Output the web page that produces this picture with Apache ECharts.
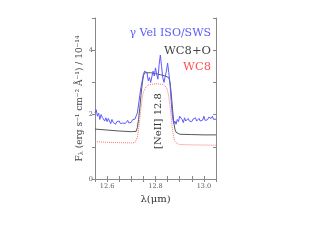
<!DOCTYPE html>
<html><head><meta charset="utf-8">
<script src="https://cdn.jsdelivr.net/npm/echarts@6/dist/echarts.min.js"></script>
<style>html,body{margin:0;padding:0;background:#fff}#c{width:312px;height:241px}</style>
</head><body><div id="c"></div>
<script>
var isoWl = [12.550,12.555,12.560,12.565,12.570,12.575,12.580,12.585,12.590,12.595,12.600,12.605,12.610,12.615,12.620,12.625,12.630,12.635,12.640,12.645,12.650,12.655,12.660,12.665,12.670,12.675,12.680,12.685,12.690,12.695,12.700,12.705,12.710,12.715,12.720,12.725,12.730,12.735,12.740,12.745,12.750,12.755,12.760,12.765,12.770,12.775,12.780,12.785,12.790,12.795,12.800,12.805,12.810,12.815,12.820,12.825,12.830,12.835,12.840,12.845,12.850,12.855,12.860,12.865,12.870,12.875,12.880,12.885,12.890,12.895,12.900,12.905,12.910,12.915,12.920,12.925,12.930,12.935,12.940,12.945,12.950,12.955,12.960,12.965,12.970,12.975,12.980,12.985,12.990,12.995,13.000,13.005,13.010,13.015,13.020,13.025,13.030,13.035,13.040,13.045,13.050];
var isoFlux = [2.05,2.15,1.95,2.05,1.85,2.00,1.92,1.98,1.80,1.90,1.78,1.88,1.82,1.72,1.85,1.76,1.80,1.70,1.78,1.74,1.80,1.72,1.78,1.74,1.80,1.72,1.76,1.82,1.74,1.80,1.76,1.84,1.78,1.86,1.90,2.05,2.30,2.60,2.85,3.05,3.25,3.35,3.40,3.30,3.05,3.15,3.00,3.05,3.35,3.20,3.45,3.25,3.10,3.55,3.85,3.50,3.15,3.00,3.05,3.35,3.60,3.30,2.95,2.40,1.95,1.72,1.80,1.70,1.85,1.78,1.95,2.00,1.85,1.75,1.90,1.80,1.75,1.88,1.80,1.85,1.78,1.86,1.82,1.90,1.80,1.85,1.88,1.80,1.86,1.83,1.95,1.82,1.88,1.84,1.92,1.86,1.88,1.95,1.85,1.88,1.86];
var wc8oWl = [12.55,12.60,12.65,12.70,12.72,12.725,12.73,12.735,12.74,12.745,12.75,12.755,12.76,12.78,12.80,12.82,12.84,12.855,12.86,12.865,12.87,12.875,12.88,12.885,12.89,12.90,12.95,13.00,13.05];
var wc8oFlux = [1.55,1.52,1.49,1.47,1.48,1.60,1.85,2.20,2.60,2.95,3.20,3.30,3.32,3.30,3.27,3.24,3.20,3.15,3.00,2.65,2.20,1.80,1.55,1.45,1.41,1.39,1.38,1.37,1.37];
var wc8Wl = [12.55,12.60,12.65,12.70,12.715,12.72,12.725,12.73,12.735,12.74,12.745,12.75,12.76,12.77,12.80,12.83,12.845,12.85,12.855,12.86,12.865,12.87,12.875,12.88,12.89,12.90,12.95,13.05];
var wc8Flux = [1.16,1.14,1.13,1.12,1.13,1.18,1.30,1.55,1.85,2.20,2.50,2.70,2.85,2.92,2.96,2.94,2.85,2.75,2.55,2.25,1.90,1.55,1.30,1.17,1.10,1.07,1.06,1.05];
var xTickLabels = ['12.6','12.8','13.0'];
var yTickLabels = ['0','2','4'];

function pairs(a,b){return a.map(function(v,i){return [v,b[i]];});}
var axisCol = '#888';
var chart = echarts.init(document.getElementById('c'));
var serif = '"DejaVu Serif", serif';
chart.setOption({
  animation:false,
  grid:{left:95,right:96,top:18,bottom:62},
  xAxis:[{
    type:'value',min:12.55,max:13.05,interval:0.05,
    name:'λ(μm)',nameLocation:'middle',nameGap:15,
    nameTextStyle:{fontFamily:serif,fontSize:10,color:'#333'},
    axisLine:{lineStyle:{color:axisCol,width:1}},
    axisTick:{inside:true,length:3,lineStyle:{color:axisCol}},
    axisLabel:{margin:4,fontSize:6.5,color:'#555',fontFamily:serif,
      formatter:function(v){var s=(Math.round(v*10)/10).toFixed(1);return (Math.abs(v*5-Math.round(v*5))<1e-6 && xTickLabels.indexOf(s)>=0)?s:'';}},
    splitLine:{show:false}
  },{
    type:'value',position:'top',min:12.55,max:13.05,interval:0.05,
    axisLine:{lineStyle:{color:axisCol,width:1}},
    axisTick:{inside:true,length:3,lineStyle:{color:axisCol}},
    axisLabel:{show:false},splitLine:{show:false}
  }],
  yAxis:[{
    type:'value',min:0,max:5,interval:1,
    name:'{n|F}{s|λ}{n| (erg s⁻¹ cm⁻² Å⁻¹) / 10⁻¹⁴}',nameLocation:'middle',nameGap:10,
    nameTextStyle:{color:'#444',fontFamily:serif,
      rich:{n:{fontSize:9,color:'#444',fontFamily:serif},s:{fontSize:6.5,color:'#444',padding:[4,0,0,0],fontFamily:serif}}},
    axisLine:{lineStyle:{color:axisCol,width:1}},
    axisTick:{inside:false,length:3,lineStyle:{color:axisCol}},
    axisLabel:{margin:2,fontSize:6.5,color:'#555',fontFamily:serif,
      formatter:function(v){var s=String(Math.round(v));return yTickLabels.indexOf(s)>=0?s:'';}},
    splitLine:{show:false}
  },{
    type:'value',position:'right',min:0,max:5,interval:1,
    axisLine:{show:true,lineStyle:{color:axisCol,width:1}},
    axisTick:{inside:true,length:3,lineStyle:{color:axisCol}},
    axisLabel:{show:false},splitLine:{show:false}
  }],
  series:[
    {type:'line',data:pairs(wc8Wl,wc8Flux),showSymbol:false,lineStyle:{color:'#ff7070',width:1,type:'dotted'}},
    {type:'line',data:pairs(wc8oWl,wc8oFlux),showSymbol:false,lineStyle:{color:'#444',width:0.9}},
    {type:'line',data:pairs(isoWl,isoFlux),showSymbol:false,lineStyle:{color:'#5a5aff',width:1}}
  ],
  graphic:[
    {type:'text',right:101,top:28,style:{text:'γ Vel ISO/SWS',fill:'#5a5aff',font:'11px "DejaVu Serif", serif'}},
    {type:'text',right:101,top:45,style:{text:'WC8+O',fill:'#444',font:'11.5px "DejaVu Serif", serif'}},
    {type:'text',right:101,top:61,style:{text:'WC8',fill:'#ff5050',font:'11.5px "DejaVu Serif", serif'}},
    {type:'text',x:158,y:121,rotation:Math.PI/2,style:{text:'[NeII] 12.8',fill:'#333',font:'10px "DejaVu Serif", serif',textAlign:'center',textVerticalAlign:'middle'}}
  ]
});
</script></body></html>
